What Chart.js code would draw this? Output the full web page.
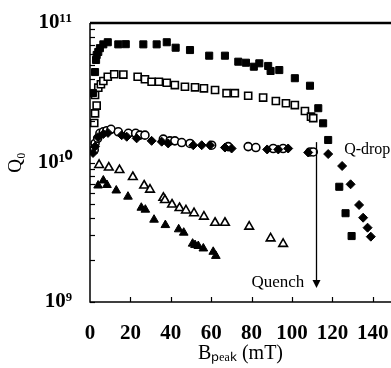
<!DOCTYPE html>
<html><head><meta charset="utf-8">
<script src="https://cdn.jsdelivr.net/npm/chart.js@4"></script>
<style>html,body{margin:0;padding:0;background:#fff}</style>
</head><body>
<canvas id="c" width="391" height="368"></canvas>
<script>
// ---- data (B_peak in mT, Q0) ----
const filledSquareB = [1.5,2.5,3,3.3,4.1,4.9,6.6,8.8,14,17.7,26.4,33,38,42.4,49.5,59,66.8,73.4,77.2,81.1,83.8,88.2,89.4,93.7,101.4,108.9,113,115.4,117.9,123.4,126.5,129.5];
const filledSquareQ = [3.15e10,4.45e10,5.43e10,5.9e10,6.2e10,6.6e10,7.03e10,7.28e10,7.03e10,7.05e10,7.03e10,7.03e10,7.28e10,6.65e10,6.4e10,5.83e10,5.83e10,5.28e10,5.19e10,4.86e10,5.14e10,4.92e10,4.53e10,4.6e10,4.02e10,3.55e10,2.45e10,1.91e10,1.45e10,6.7e9,4.33e9,2.97e9];

const openSquareB = [2.1,2.5,3.3,2.5,4.1,5.4,6.6,8.8,12,16.5,23.6,27.2,30.5,34.1,38,42,47,52,56.4,61.9,67.6,71.7,78.3,85.7,92,97,101.4,106.4,109.4,110.5];
const openSquareQ = [1.92e10,2.25e10,2.56e10,3.05e10,3.44e10,3.64e10,3.84e10,4.12e10,4.29e10,4.27e10,4.12e10,3.95e10,3.79e10,3.79e10,3.73e10,3.59e10,3.49e10,3.46e10,3.4e10,3.31e10,3.14e10,3.14e10,3.01e10,2.92e10,2.76e10,2.66e10,2.58e10,2.34e10,2.13e10,2.08e10];

const openCircleB = [2.1,2.5,3.8,4.9,6.6,8.3,10.4,14,19,22.6,24.7,27.2,36.3,39.6,42,45.4,49.5,60.2,68.4,78.3,82.1,90.7,95.6,108.9,110.5];
const openCircleQ = [1.23e10,1.37e10,1.49e10,1.62e10,1.66e10,1.69e10,1.73e10,1.66e10,1.62e10,1.62e10,1.57e10,1.57e10,1.47e10,1.43e10,1.43e10,1.39e10,1.37e10,1.33e10,1.3e10,1.3e10,1.28e10,1.26e10,1.26e10,1.19e10,1.19e10];

const diamondB = [1.5,2.5,4,6.6,8.9,15.7,18.2,23.1,30.5,35.5,38.7,51.1,55.3,59.4,66.8,70.1,87.7,93.2,98.1,108,117.9,124.8,129,133.2,135.2,137.4,139];
const diamondQ = [1.17e10,1.3e10,1.52e10,1.6e10,1.63e10,1.57e10,1.53e10,1.49e10,1.43e10,1.41e10,1.37e10,1.33e10,1.33e10,1.33e10,1.28e10,1.26e10,1.24e10,1.24e10,1.26e10,1.18e10,1.15e10,9.44e9,6.98e9,4.96e9,4.02e9,3.41e9,2.94e9];

const openTriangleB = [4.5,9.3,14.6,21.2,26.8,29.7,36.3,37.1,40.6,44.3,47.5,51.5,56.4,61.9,66.8,78.8,89.4,95.6];
const openTriangleQ = [9.6e9,9.2e9,8.83e9,7.87e9,6.84e9,6.39e9,5.59e9,5.38e9,5.0e9,4.72e9,4.53e9,4.33e9,4.09e9,3.7e9,3.7e9,3.47e9,2.86e9,2.61e9];

const filledTriangleB = [4,6.6,8.4,13,18.8,25.4,27.4,31.7,37.3,43.9,46.4,50.8,52,53.6,56.1,61,62.3];
const filledTriangleQ = [6.84e9,7.43e9,6.9e9,6.3e9,5.69e9,4.74e9,4.59e9,3.89e9,3.56e9,3.32e9,3.14e9,2.62e9,2.56e9,2.52e9,2.42e9,2.29e9,2.14e9];

const xTickValues = [0,20,40,60,80,100,120,140];
const yTickValues = [1e9,1e10,1e11];
const yTickLabels = ['10\u2079','10\u00B9\u2070','10\u00B9\u00B9'];
const quenchB = 112;

// ---- build ----
const pts = (xs, ys) => xs.map((v, i) => ({x: v, y: ys[i]}));
const black = '#000';
const ds = (data, style, radius, filled) => ({
  data, pointStyle: style, pointRadius: radius, pointHoverRadius: radius,
  borderColor: black, backgroundColor: filled ? black : '#fff',
  pointBorderWidth: filled ? 1 : 1.6, showLine: false
});

const serif = '"Liberation Serif", "Times New Roman", serif';

const decor = {
  id: 'decor',
  afterDatasetsDraw(chart) {
    const {ctx, chartArea: a, scales: {x, y}} = chart;
    ctx.save();
    ctx.strokeStyle = black; ctx.fillStyle = black;
    ctx.lineWidth = 1.5;
    ctx.beginPath();
    ctx.moveTo(a.left, a.top); ctx.lineTo(a.left, a.bottom); ctx.lineTo(a.right, a.bottom);
    ctx.stroke();
    ctx.lineWidth = 2.5;
    ctx.beginPath(); ctx.moveTo(a.left, a.top); ctx.lineTo(a.right, a.top); ctx.stroke();
    ctx.lineWidth = 1.2;
    [1e9, 1e10].forEach(d => {
      for (let m = 1; m <= 9; m++) {
        const py = Math.round(y.getPixelForValue(m * d)) + 0.5;
        ctx.beginPath(); ctx.moveTo(a.left, py); ctx.lineTo(a.left + 5, py); ctx.stroke();
      }
    });
    xTickValues.forEach(v => {
      if (v === 0) return;
      const px = Math.round(x.getPixelForValue(v)) + 0.5;
      ctx.beginPath(); ctx.moveTo(px, a.bottom); ctx.lineTo(px, a.bottom - 5); ctx.stroke();
    });
    const ax = Math.round(x.getPixelForValue(quenchB)) + 0.5;
    const y0 = y.getPixelForValue(1.4e10), y1 = y.getPixelForValue(1.26e9);
    ctx.lineWidth = 1.3;
    ctx.beginPath(); ctx.moveTo(ax, y0); ctx.lineTo(ax, y1 - 7); ctx.stroke();
    ctx.beginPath(); ctx.moveTo(ax - 4, y1 - 8); ctx.lineTo(ax + 4, y1 - 8); ctx.lineTo(ax, y1); ctx.closePath(); ctx.fill();
    ctx.textBaseline = 'middle';
    ctx.font = '16px ' + serif;
    ctx.textAlign = 'left';
    ctx.fillText('Q-drop', x.getPixelForValue(125.8), y.getPixelForValue(1.23e10));
    ctx.font = '17px ' + serif;
    ctx.textAlign = 'center';
    ctx.fillText('Quench', x.getPixelForValue(93), y.getPixelForValue(1.39e9));
    ctx.restore();
  }
};

new Chart(document.getElementById('c'), {
  type: 'scatter',
  data: {datasets: [
    ds(pts(filledSquareB, filledSquareQ), 'rect', 5, true),
    ds(pts(openSquareB, openSquareQ), 'rect', 5, false),
    ds(pts(diamondB, diamondQ), 'rectRot', 4.5, true),
    ds(pts(openCircleB, openCircleQ), 'circle', 4, false),
    ds(pts(openTriangleB, openTriangleQ), 'triangle', 5, false),
    ds(pts(filledTriangleB, filledTriangleQ), 'triangle', 5, true)
  ]},
  options: {
    responsive: false, animation: false, devicePixelRatio: 1,
    layout: {autoPadding: false, padding: {top: 23, right: 0, left: 0, bottom: 0}},
    plugins: {legend: {display: false}, tooltip: {enabled: false}},
    scales: {
      x: {
        type: 'linear', min: 0, max: 149,
        afterBuildTicks: s => { s.ticks = xTickValues.map(v => ({value: v})); },
        afterFit: s => { s.height = 66; s.paddingLeft = 0; s.paddingRight = 0; },
        grid: {display: false, drawTicks: false}, border: {display: false},
        ticks: {color: black, font: {family: serif, size: 21, weight: 'bold'}, padding: 19, maxRotation: 0, autoSkip: false},
        title: {display: true, text: 'B\u209A\u2091\u2090\u2096 (mT)', color: black, font: {family: serif, size: 20}, padding: {top: 0, bottom: 2}}
      },
      y: {
        type: 'logarithmic', min: 1e9, max: 1e11,
        afterBuildTicks: s => { s.ticks = yTickValues.map(v => ({value: v})); },
        afterFit: s => { s.width = 90; s.paddingTop = 0; s.paddingBottom = 0; },
        grid: {display: false, drawTicks: false}, border: {display: false},
        ticks: {color: black, font: {family: serif, size: 21, weight: 'bold'}, padding: 18,
          callback: v => { const i = yTickValues.indexOf(v); return i >= 0 ? yTickLabels[i] : ''; }},
        title: {display: true, text: 'Q\u2080', color: black, font: {family: serif, size: 19}, padding: {top: 5, bottom: 0}}
      }
    }
  },
  plugins: [decor]
});
</script>
</body></html>
